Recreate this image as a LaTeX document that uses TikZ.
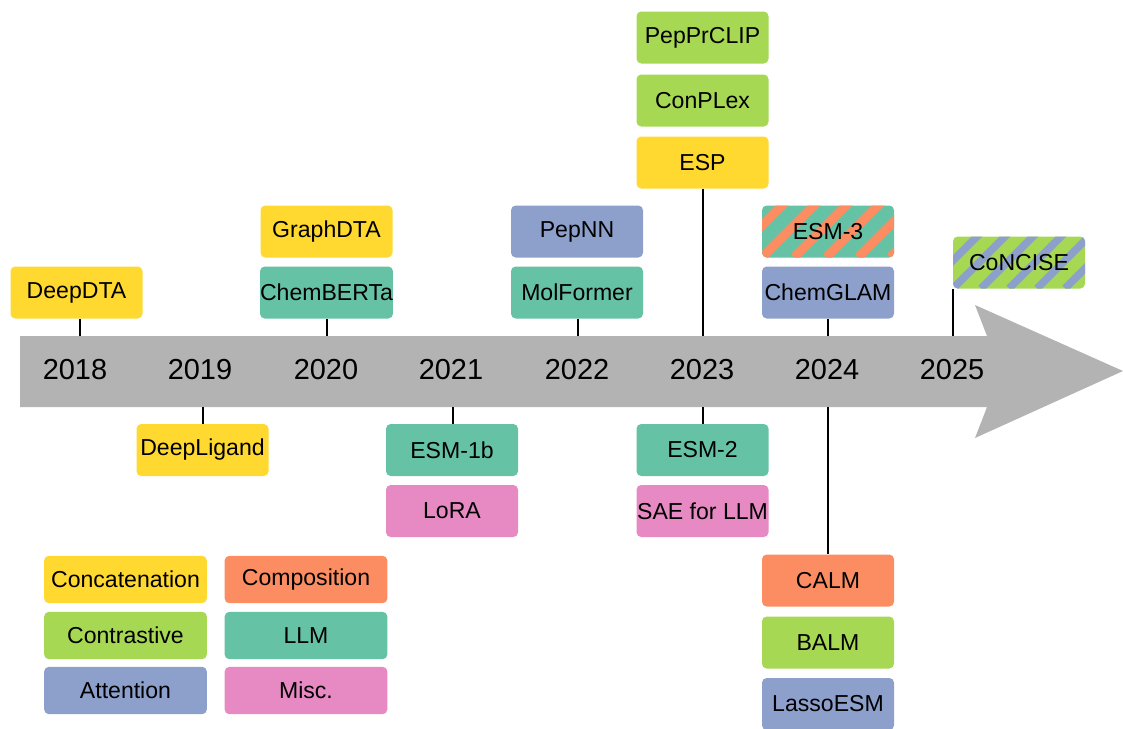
\documentclass[tikz,border=0pt]{standalone}
\usepackage{fontspec}
\setmainfont{Liberation Sans}
\definecolor{cYel}{HTML}{FFD92F}
\definecolor{cGrn}{HTML}{A6D854}
\definecolor{cBlu}{HTML}{8DA0CB}
\definecolor{cOra}{HTML}{FC8D62}
\definecolor{cTea}{HTML}{66C2A5}
\definecolor{cPnk}{HTML}{E78AC3}
\definecolor{cGry}{HTML}{B3B3B3}
\begin{document}
\begin{tikzpicture}[x=0.75pt,y=-0.75pt,
  box/.style={rounded corners=3.5pt, minimum width=99pt, minimum height=39pt, inner sep=0pt,
    font=\fontsize{17.3}{20}\selectfont},
  leg/.style={box, minimum width=122pt, minimum height=35.5pt},
  conn/.style={line width=1.5pt, black},
  year/.style={font=\fontsize{21.7}{25}\selectfont, inner sep=0pt},
  stripes/.style n args={3}{path picture={
    \foreach \i in {-3,...,7}{
      \draw[#1, line width=#2]
        ([xshift=\i*#3]path picture bounding box.south west) -- ++(90,-90);
    }}}
]
\useasboundingbox (0,0) rectangle (1123,728);
\clip (0,0) rectangle (1123,728);

% timeline arrow
\fill[cGry] (20,336) -- (987,336) -- (975,305) -- (1123,371) -- (975,438) -- (987,407) -- (20,407) -- cycle;
\coordinate (t18) at (80,336);
\coordinate (t19) at (203,407);
\coordinate (t20) at (327,336);
\coordinate (t21) at (453,407);
\coordinate (t22) at (578,336);
\coordinate (t23u) at (703,336);
\coordinate (t23d) at (703,407);
\coordinate (t24u) at (828,336);
\coordinate (t24d) at (828,407);
\coordinate (t25) at (953,336);

% years
\node[year] (y18) at (75,370) {2018};
\node[year] (y19) at (200,370) {2019};
\node[year] (y20) at (326,370) {2020};
\node[year] (y21) at (451,370) {2021};
\node[year] (y22) at (577,370) {2022};
\node[year] (y23) at (702,370) {2023};
\node[year] (y24) at (827,370) {2024};
\node[year] (y25) at (952,370) {2025};

% boxes
\node[box, fill=cYel] (deepdta) at (76.5,292.5) {DeepDTA};
\node[box, fill=cYel] (deepligand) at (202.5,450) {DeepLigand};
\node[box, fill=cYel] (graphdta) at (326.5,231.5) {GraphDTA};
\node[box, fill=cTea] (chemberta) at (326.5,292.5) {ChemBERTa};
\node[box, fill=cTea] (esm1b) at (452,450) {ESM-1b};
\node[box, fill=cPnk] (lora) at (452,511) {LoRA};
\node[box, fill=cBlu] (pepnn) at (577,231.5) {PepNN};
\node[box, fill=cTea] (molformer) at (577,292.5) {MolFormer};
\node[box, fill=cGrn] (pepprclip) at (702.5,37.5) {PepPrCLIP};
\node[box, fill=cGrn] (conplex) at (702.5,100.5) {ConPLex};
\node[box, fill=cYel] (esp) at (702.5,162.5) {ESP};
\node[box, fill=cTea] (esm2) at (702.5,450) {ESM-2};
\node[box, fill=cPnk] (sae) at (702.5,511) {SAE for LLM};
\node[box, fill=cTea, stripes={cOra}{6.8pt}{24pt}] (esm3) at (828,231.5) {ESM-3};
\node[box, fill=cBlu] (chemglam) at (828,292.5) {ChemGLAM};
\node[box, fill=cOra] (calm) at (828,580.5) {CALM};
\node[box, fill=cGrn] (balm) at (828,642.5) {BALM};
\node[box, fill=cBlu] (lassoesm) at (828,704) {LassoESM};
\node[box, fill=cGrn, stripes={cBlu}{5.6pt}{21pt}] (concise) at (1019,262.5) {CoNCISE};

% legend
\node[leg, fill=cYel] (lconcat) at (125.5,579.5) {Concatenation};
\node[leg, fill=cGrn] (lcontr) at (125.5,635.5) {Contrastive};
\node[leg, fill=cBlu] (lattn) at (125.5,690.5) {Attention};
\node[leg, fill=cOra] (lcomp) at (306,579.5) {Composition};
\node[leg, fill=cTea] (lllm) at (306,635.5) {LLM};
\node[leg, fill=cPnk] (lmisc) at (306,690.5) {Misc.};

% connectors
\draw[conn] (t18 |- deepdta.south) -- (t18);
\draw[conn] (t19) -- (t19 |- deepligand.north);
\draw[conn] (t20 |- chemberta.south) -- (t20);
\draw[conn] (t21) -- (t21 |- esm1b.north);
\draw[conn] (t22 |- molformer.south) -- (t22);
\draw[conn] (t23u |- esp.south) -- (t23u);
\draw[conn] (t23d) -- (t23d |- esm2.north);
\draw[conn] (t24u |- chemglam.south) -- (t24u);
\draw[conn] (t24d) -- (t24d |- calm.north);
\draw[conn] (t25 |- concise.south) -- (t25);
\end{tikzpicture}
\end{document}
